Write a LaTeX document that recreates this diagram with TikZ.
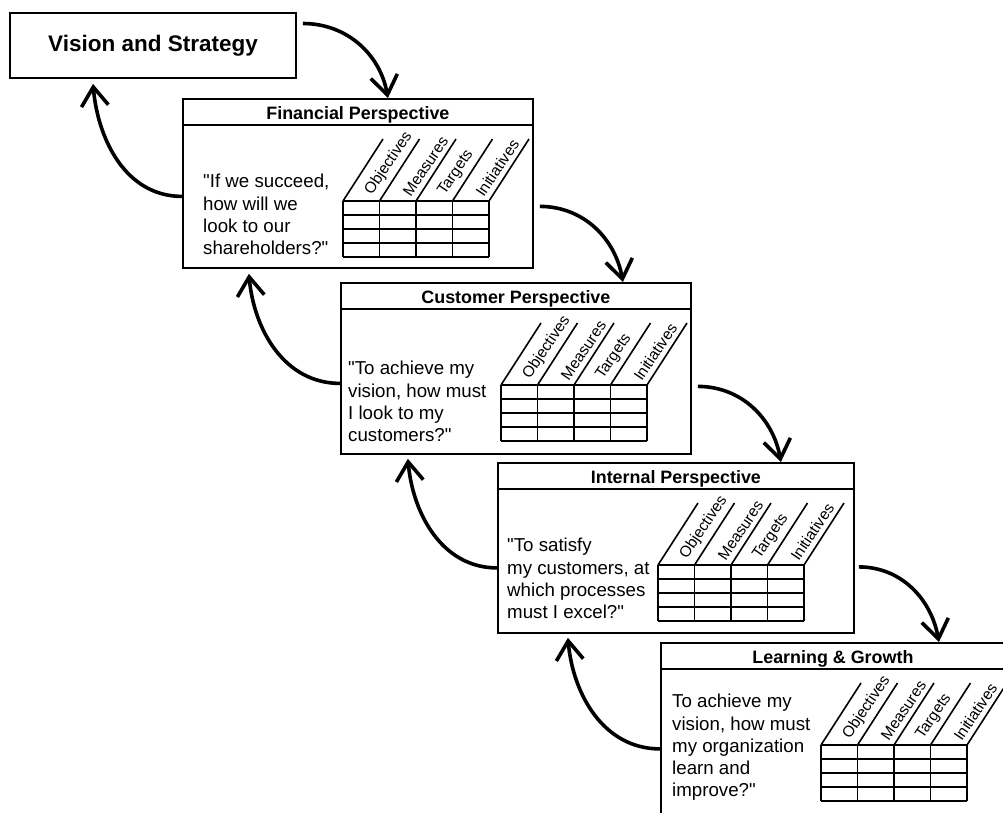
\documentclass[tikz,border=0pt]{standalone}
\usepackage{fontspec}
\setmainfont{Liberation Sans}[Ligatures=TeXOff]
\usetikzlibrary{arrows.meta,calc}

\begin{document}
\begin{tikzpicture}[x=1pt, y=-1pt,
        box/.style={draw, line width=1.8pt, inner sep=0pt},
        boxline/.style={line width=1.8pt},
        gridline/.style={line width=1.6pt},
        title/.style={font=\bfseries\fontsize{17.9}{20}\selectfont, anchor=base, inner sep=0pt},
        question/.style={font=\fontsize{18.7}{22.3}\selectfont, align=left, anchor=north west, inner sep=0pt},
        colhead/.style={font=\fontsize{15.5}{15.5}\selectfont, rotate=56, anchor=south west, inner sep=0pt},
        cycle arrow/.style={line width=3.6pt, -{Straight Barb[length=19pt, width=27pt]}}]
        \useasboundingbox (0,0) rectangle (1003,812);
        \clip (0,0) rectangle (1003,812);

        % Boxes
        \node[box, minimum width=286, minimum height=65,
            font=\bfseries\fontsize{22.5}{26}\selectfont] (vis) at (153,45.5) {Vision and Strategy};
        \node[box, minimum width=350, minimum height=169, anchor=north west] (fin) at (182,98) {};
        \node[box, minimum width=350, minimum height=171, anchor=north west] (cus) at (340,282) {};
        \node[box, minimum width=356, minimum height=170, anchor=north west] (int) at (497,462) {};
        \node[box, minimum width=344, minimum height=176, anchor=north west] (lrn) at (660,642) {};

        % Header bars
        \foreach \b in {fin,cus,int,lrn} {
                \draw[boxline] ($(\b.north west)+(0,27)$) -- ($(\b.north east)+(0,27)$);
            }
        \node[title] (fin-title) at ($(fin.north)+(0,21)$) {Financial Perspective};
        \node[title] (cus-title) at ($(cus.north)+(0,21)$) {Customer Perspective};
        \node[title] (int-title) at ($(int.north)+(0,21)$) {Internal Perspective};
        \node[title] (lrn-title) at ($(lrn.north)+(0,21)$) {Learning \& Growth};

        % Questions
        \node[question] (fin-q) at ($(fin.north west)+(21,76)$) {"If we succeed,\\how will we\\look to our\\shareholders?"};
        \node[question] (cus-q) at ($(cus.north west)+(8,79)$) {"To achieve my\\vision, how must\\I look to my\\customers?"};
        \node[question] (int-q) at ($(int.north west)+(10,76)$) {"To satisfy\\my customers, at\\which processes\\must I excel?"};
        \node[question] (lrn-q) at ($(lrn.north west)+(12,52)$) {To achieve my\\vision, how must\\my organization\\learn and\\improve?"};

        % Scorecard tables
        \foreach \b in {fin,cus,int,lrn} {
                \coordinate (\b-grid) at ($(\b.north west)+(161,103)$);
                \foreach \r in {0,...,4} {
                        \draw[gridline] ($(\b-grid)+(0,\r*14)$) -- ++(146,0);
                    }
                \foreach \c in {0,...,4} {
                        \draw[gridline] ($(\b-grid)+(\c*36.5,0)$) -- ++(0,56);
                        \draw[gridline] ($(\b-grid)+(\c*36.5,0)$) -- ++(40,-62);
                    }
                \foreach \c/\lab in {1/Objectives,2/Measures,3/Targets,4/Initiatives} {
                        \node[colhead] at ($(\b-grid)+(\c*36.5-5,-3)$) {\lab};
                    }
            }

        % Arrows down the cascade
        \draw[cycle arrow] ($(vis.east)+(6,-22)$) to[out=0, in=100] ($(fin.north)+(30,0)$);
        \draw[cycle arrow] ($(fin.east)+(6,23)$) to[out=0, in=100] ($(cus.north)+(107,0)$);
        \draw[cycle arrow] ($(cus.east)+(6,18)$) to[out=0, in=100] ($(int.north)+(105,0)$);
        \draw[cycle arrow] ($(int.east)+(4,19)$) to[out=0, in=100] ($(lrn.north)+(106,0)$);

        % Arrows back up
        \draw[cycle arrow] ($(fin.west)+(0,13)$) to[out=180, in=-85] ($(vis.south)+(-60,5)$);
        \draw[cycle arrow] ($(cus.west)+(0,15)$) to[out=180, in=-85] ($(fin.south)+(-109,5)$);
        \draw[cycle arrow] ($(int.west)+(0,20)$) to[out=180, in=-85] ($(cus.south)+(-108,4)$);
        \draw[cycle arrow] ($(lrn.west)+(0,18)$) to[out=180, in=-85] ($(int.south)+(-108,4)$);
    \end{tikzpicture}
\end{document}
